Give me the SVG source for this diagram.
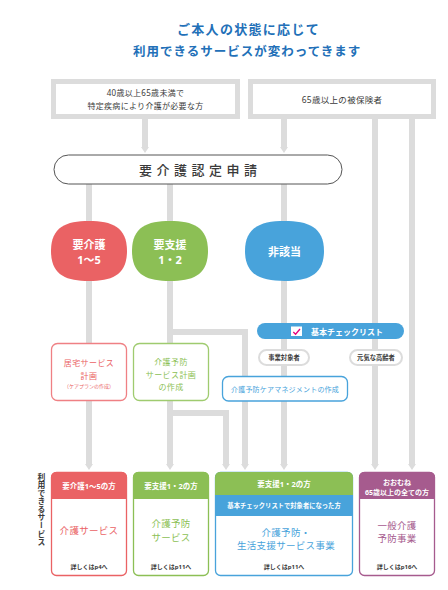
<svg xmlns="http://www.w3.org/2000/svg" width="448" height="590" viewBox="0 0 448 590">
<defs>
<style>
text{font-family:"Noto Sans","Noto Sans CJK JP",sans-serif;}
.ttl{font-size:13px;font-weight:700;fill:#2270b8;}
.dk{fill:#3a3a3a;}
.ln{fill:none;stroke:#dcdcdc;stroke-width:6;stroke-linejoin:miter;}
.tb{fill:#fff;stroke:#dcdcdc;stroke-width:5;}
.c{text-anchor:middle;}
.w{fill:#fff;font-weight:700;}
.ov{font-size:11px;}
.sp{fill:#fff;stroke:#dcdcdc;stroke-width:2;}
.pl{fill:#fff;stroke-width:1.3;}
.hd{font-size:7.5px;}
.bd{font-size:9.5px;letter-spacing:0.3px;}
.sm{font-size:6px;fill:#3a3a3a;font-weight:700;}
.red{fill:#ea6264;}
.grn{fill:#8cbf55;}
.blu{fill:#48a3db;}
.pur{fill:#a65b8e;}
</style>
<marker id="arr" viewBox="0 -4 6 8" refX="0" refY="0" markerWidth="6" markerHeight="8" markerUnits="userSpaceOnUse" orient="auto">
<path d="M0,-4 L6,0 L0,4 Z" fill="#dcdcdc"/>
</marker>
</defs>
<rect width="448" height="590" fill="#fff"/>

<g id="title">
<text class="ttl" x="177" y="34" style="letter-spacing:1.3px">ご本人の状態に応じて</text>
<text class="ttl" x="133" y="56" style="font-size:12.5px;letter-spacing:1px">利用できるサービスが変わってきます</text>
</g>

<g id="connectors">
<path class="ln" d="M145,119 V147" marker-end="url(#arr)"/>
<path class="ln" d="M284,119 V147" marker-end="url(#arr)"/>
<path class="ln" d="M375,119 V464" marker-end="url(#arr)"/>
<path class="ln" d="M412,119 V464" marker-end="url(#arr)"/>
<path class="ln" d="M89,184 V464" marker-end="url(#arr)"/>
<path class="ln" d="M170,184 V464" marker-end="url(#arr)"/>
<path class="ln" d="M284,184 V464" marker-end="url(#arr)"/>
<path class="ln" d="M170,332 H245 V464" marker-end="url(#arr)"/>
<path class="ln" d="M170,413 H226 V464" marker-end="url(#arr)"/>
</g>

<g id="box-40-65">
<rect class="tb" x="53.5" y="81.5" width="184" height="35"/>
<text class="dk c" x="145.5" y="96" style="font-size:8px;letter-spacing:0.3px">40歳以上65歳未満で</text>
<text class="dk c" x="145.5" y="109" style="font-size:8px;letter-spacing:0.3px">特定疾病により介護が必要な方</text>
</g>

<g id="box-65">
<rect class="tb" x="250.5" y="81.5" width="183" height="35"/>
<text class="dk c" x="342" y="102.5" style="font-size:8.5px;letter-spacing:0.3px">65歳以上の被保険者</text>
</g>

<g id="application">
<rect x="54" y="155" width="288" height="29" rx="14.5" fill="#fff" stroke="#555" stroke-width="1"/>
<text class="dk" x="139" y="175" style="font-size:13px;font-weight:500;letter-spacing:4.5px">要介護認定申請</text>
</g>

<g id="care-1-5">
<path class="red" d="M51,251 C51,227 66,221 89,221 C112,221 127,227 127,251 C127,275 112,281 89,281 C66,281 51,275 51,251 Z"/>
<text class="w c ov" x="89" y="249">要介護</text>
<text class="w c ov" x="89" y="264">1〜5</text>
</g>

<g id="support-1-2">
<path class="grn" d="M132,251 C132,227 147,221 170,221 C193,221 208,227 208,251 C208,275 193,281 170,281 C147,281 132,275 132,251 Z"/>
<text class="w c ov" x="170" y="249">要支援</text>
<text class="w c ov" x="170" y="264">1・2</text>
</g>

<g id="not-applicable">
<path class="blu" d="M245,251 C245,227 261,221 284.5,221 C308,221 324,227 324,251 C324,275 308,281 284.5,281 C261,281 245,275 245,251 Z"/>
<text class="w c ov" x="284.5" y="256">非該当</text>
</g>

<g id="checklist">
<rect class="blu" x="257" y="323" width="147" height="16" rx="8"/>
<rect x="291" y="326.5" width="11" height="9.5" fill="#fff"/>
<path d="M293.3,332 L295.6,334.2 L300,329" fill="none" stroke="#e4007f" stroke-width="1.3"/>
<text class="w" x="311" y="334.5" style="font-size:8px">基本チェックリスト</text>
</g>

<g id="eligible">
<rect class="sp" x="259" y="350" width="50" height="15" rx="7.5"/>
<text class="dk c" x="284" y="360" style="font-size:6.3px;font-weight:700">事業対象者</text>
</g>

<g id="healthy">
<rect class="sp" x="350" y="350" width="52" height="15" rx="7.5"/>
<text class="dk c" x="376" y="360" style="font-size:6.3px;font-weight:700">元気な高齢者</text>
</g>

<g id="care-plan">
<rect class="pl" x="51.5" y="343.5" width="75" height="57" rx="6" stroke="#ef8084"/>
<text class="red c" x="89" y="366" style="font-size:8px;letter-spacing:0.4px">居宅サービス</text>
<text class="red c" x="89" y="378.5" style="font-size:8px;letter-spacing:0.4px">計画</text>
<text class="red c" x="89" y="388" style="font-size:5px">（ケアプランの作成）</text>
</g>

<g id="prevention-plan">
<rect class="pl" x="133.5" y="343.5" width="75" height="57" rx="6" stroke="#9fcb6f"/>
<text class="grn c" x="171" y="365" style="font-size:8px;letter-spacing:0.4px">介護予防</text>
<text class="grn c" x="171" y="377.5" style="font-size:8px;letter-spacing:0.4px">サービス計画</text>
<text class="grn c" x="171" y="390" style="font-size:8px;letter-spacing:0.4px">の作成</text>
</g>

<g id="care-management">
<rect class="pl" x="222.5" y="376.5" width="125" height="24.5" rx="6" stroke="#48a3db"/>
<text class="blu c" x="285" y="391.5" style="font-size:7px;letter-spacing:0.2px">介護予防ケアマネジメントの作成</text>
</g>

<text class="dk" x="41.5" y="473" style="writing-mode:vertical-rl;text-orientation:mixed;font-family:'Noto Sans CJK JP',sans-serif;font-size:7.8px;font-weight:700;letter-spacing:0.3px">利用できるサービス</text>

<g id="svc-care">
<rect class="pl" x="51.5" y="472.5" width="75" height="103" rx="5" stroke="#ea6264"/>
<path class="red" d="M51,499 V477.5 Q51,472 56.5,472 H121.5 Q127,472 127,477.5 V499 Z"/>
<text class="w c hd" x="89" y="489">要介護1〜5の方</text>
<text class="red c bd" x="89" y="534">介護サービス</text>
<text class="sm c" x="89" y="568.5">詳しくはp4へ</text>
</g>

<g id="svc-prevention">
<rect class="pl" x="133.5" y="472.5" width="75" height="103" rx="5" stroke="#8cbf55"/>
<path class="grn" d="M133,499 V477.5 Q133,472 138.5,472 H203.5 Q209,472 209,477.5 V499 Z"/>
<text class="w c hd" x="171" y="489">要支援1・2の方</text>
<text class="grn c bd" x="171" y="527">介護予防</text>
<text class="grn c bd" x="171" y="541">サービス</text>
<text class="sm c" x="171" y="568.5">詳しくはp11へ</text>
</g>

<g id="svc-community">
<rect class="pl" x="215.5" y="472.5" width="137" height="103" rx="5" stroke="#48a3db"/>
<path class="grn" d="M215,495 V477.5 Q215,472 220.5,472 H347.5 Q353,472 353,477.5 V495 Z"/>
<rect class="blu" x="215" y="495" width="138" height="21"/>
<text class="w c hd" x="284" y="486.5">要支援1・2の方</text>
<text class="w c" x="284" y="508" style="font-size:6.3px">基本チェックリストで対象者になった方</text>
<text class="blu c bd" x="286" y="536">介護予防・</text>
<text class="blu c bd" x="286" y="549">生活支援サービス事業</text>
<text class="sm c" x="284" y="568.5">詳しくはp11へ</text>
</g>

<g id="svc-general">
<rect class="pl" x="359.5" y="472.5" width="75" height="103" rx="5" stroke="#a65b8e"/>
<path class="pur" d="M359,499 V477.5 Q359,472 364.5,472 H429.5 Q435,472 435,477.5 V499 Z"/>
<text class="w c" x="397" y="485" style="font-size:7px">おおむね</text>
<text class="w c" x="397" y="495" style="font-size:7px">65歳以上の全ての方</text>
<text class="pur c bd" x="397" y="528.5">一般介護</text>
<text class="pur c bd" x="397" y="541.5">予防事業</text>
<text class="sm c" x="397" y="568.5">詳しくはp16へ</text>
</g>
</svg>
